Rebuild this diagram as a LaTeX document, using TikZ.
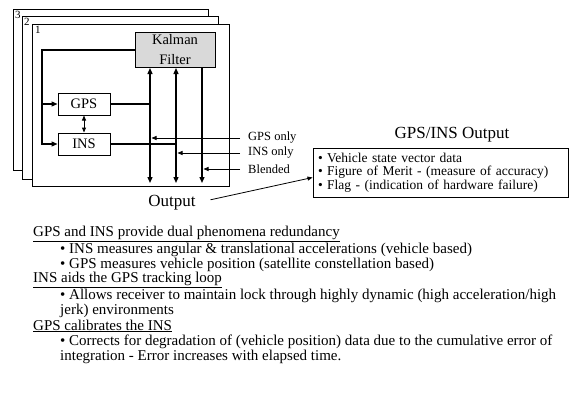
\documentclass[tikz,border=0pt]{standalone}
\usepackage{fontspec}
\setmainfont{Liberation Serif}
\usetikzlibrary{arrows.meta}

\begin{document}
\begin{tikzpicture}[x=1pt, y=-1pt,
  layer/.style={draw, fill=white, line width=0.9pt, inner sep=0pt, anchor=north west},
  tag/.style={font=\fontsize{11}{11}\selectfont, inner sep=0pt, anchor=north west},
  block/.style={draw, line width=1pt, minimum width=52pt, minimum height=22pt,
                inner sep=0pt, font=\fontsize{14.5}{15}\selectfont},
  filterbox/.style={draw, line width=1pt, fill=gray!30, minimum width=80pt, minimum height=35pt,
                inner sep=0pt, align=center, font=\fontsize{14.5}{20}\selectfont},
  bus/.style={line width=1.3pt, -{Triangle[length=6pt, width=5pt]}},
  pick/.style={line width=0.8pt, -{Triangle[length=5pt, width=4pt]}},
  sel/.style={font=\fontsize{12.5}{13}\selectfont, inner sep=0pt, anchor=west},
  heading/.style={font=\fontsize{15}{15}\selectfont, inner sep=0pt, anchor=west},
  item/.style={font=\fontsize{15}{15}\selectfont, inner sep=0pt, anchor=west},
]
\useasboundingbox (0,0) rectangle (573,400);

% stacked channel frames
\node[layer, minimum width=195pt, minimum height=161pt] (f3) at (13,9) {};
\node[tag] at (15,11) {3};
\node[layer, minimum width=196pt, minimum height=163pt] (f2) at (22,16) {};
\node[tag] at (24,18) {2};
\node[layer, minimum width=197pt, minimum height=162pt] (f1) at (32,24) {};
\node[tag] at (35,26) {1};

\node[filterbox] (kf) at (175,50) {Kalman\\Filter};
\node[block] (gps) at (84,104) {GPS};
\node[block] (ins) at (84,144) {INS};

\coordinate (fb) at (42,144);
\coordinate (cg) at (150,183);
\coordinate (ci) at (176,183);
\coordinate (ck) at (202,183);

\draw[bus] (kf.west) -| (fb) -- (ins.west);
\draw[bus] (gps.west -| fb) -- (gps.west);
\draw[line width=1pt, {Triangle[length=5pt, width=4pt]}-{Triangle[length=5pt, width=4pt]}] (gps) -- (ins);

\draw[bus] (gps.east) -| (cg);
\draw[bus] (gps.east -| cg) -- (kf.south -| cg);
\draw[bus] (ins.east) -| (ci);
\draw[bus] (ins.east -| ci) -- (kf.south -| ci);
\draw[bus] (kf.south -| ck) -- (ck);

% output selection
\node[sel] (gonly) at (248,138) {GPS only};
\node[sel] (ionly) at (248,153) {INS only};
\node[sel] (blend) at (248,169) {Blended};
\draw[pick, shorten <=8pt] (gonly.west) -- ([xshift=1.5pt]gonly.west -| cg);
\draw[pick, shorten <=8pt] (ionly.west) -- ([xshift=1.5pt]ionly.west -| ci);
\draw[pick, shorten <=8pt] (blend.west) -- ([xshift=1.5pt]blend.west -| ck);

\node[font=\fontsize{17}{17}\selectfont, inner sep=0pt] (outl) at (172,203) {Output};
\node[font=\fontsize{17}{17}\selectfont, inner sep=0pt] (otitle) at (452,135) {GPS/INS Output};
\node[draw, line width=1pt, minimum height=49pt, inner xsep=5pt, inner ysep=0pt,
      text width=245pt, align=left, font=\fontsize{13.5}{13.5}\selectfont] (ob) at (440.5,172.5) {%
  • Vehicle state vector data\\
  • Figure of Merit - (measure of accuracy)\\
  • Flag - (indication of hardware failure)};
\draw[pick, shorten <=15pt] (outl.east) -- ([yshift=-5pt]ob.west);

% notes
\node[heading] (h1) at (33,234) {\underline{GPS and INS provide dual phenomena redundancy}};
\node[item] (b1) at (60,250) {• INS measures angular \& translational accelerations (vehicle based)};
\node[item] (b2) at (60,265) {• GPS measures vehicle position (satellite constellation based)};
\node[heading] (h2) at (33,280) {\underline{INS aids the GPS tracking loop}};
\node[item] (b3) at (60,296) {• Allows receiver to maintain lock through highly dynamic (high acceleration/high};
\node[item] (b3b) at (60,311) {jerk) environments};
\node[heading] (h3) at (33,326) {\underline{GPS calibrates the INS}};
\node[item] (b4) at (60,342) {• Corrects for degradation of (vehicle position) data due to the cumulative error of};
\node[item] (b4b) at (60,357) {integration - Error increases with elapsed time.};

\end{tikzpicture}
\end{document}
